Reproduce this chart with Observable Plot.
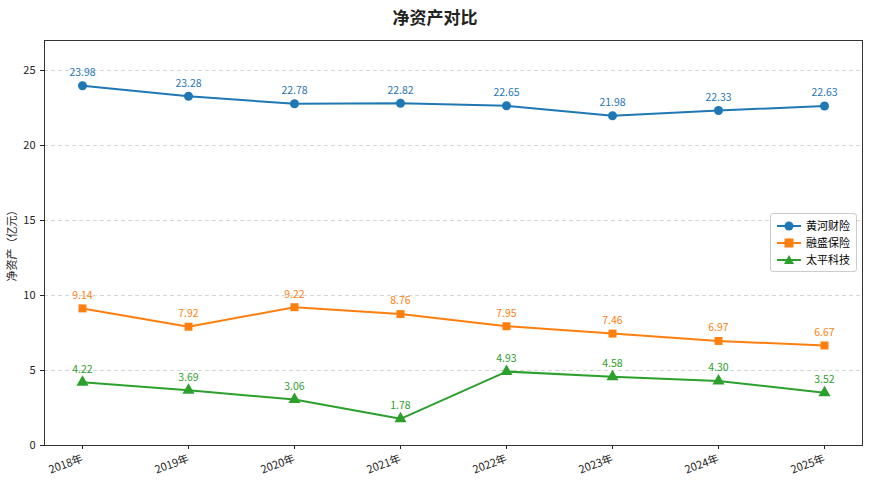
<!DOCTYPE html>
<html><head><meta charset="utf-8">
<script src="https://cdn.jsdelivr.net/npm/d3@7"></script>
<script src="https://cdn.jsdelivr.net/npm/@observablehq/plot@0.6"></script>
<style>
body{margin:0;background:#fff;font-family:"Noto Sans CJK SC","Noto Sans",sans-serif;}
#wrap{position:relative;width:870px;height:485px;}
#title{position:absolute;top:4px;left:0;width:870px;text-align:center;font-size:17px;font-weight:bold;color:#222;}
#chart{position:absolute;top:30px;left:0;}
#legend{position:absolute;left:770px;top:213px;border:1px solid #ccc;border-radius:3px;background:#fff;padding:3px 6px;font-size:11px;line-height:17px;}
#legend div{display:flex;align-items:center;gap:5px;}
</style></head><body>
<div id="wrap"><div id="title">净资产对比</div><div id="chart"></div><div id="legend"></div></div>
<script>
const years=["2018年","2019年","2020年","2021年","2022年","2023年","2024年","2025年"];
const seriesNames=["黄河财险","融盛保险","太平科技"];
const huanghe=[23.98,23.28,22.78,22.82,22.65,21.98,22.33,22.63];
const rongsheng=[9.14,7.92,9.22,8.76,7.95,7.46,6.97,6.67];
const taiping=[4.22,3.69,3.06,1.78,4.93,4.58,4.30,3.52];
const colors=["#1f77b4","#ff7f0e","#2ca02c"];
const symbols=["circle","square","triangle"];
const vals=[huanghe,rongsheng,taiping];
const data=[];
vals.forEach((v,i)=>v.forEach((y,j)=>data.push({s:seriesNames[i],x:years[j],y,c:colors[i],sym:symbols[i]})));
const chart=Plot.plot({
 width:870,height:455,marginTop:10,marginBottom:40,marginLeft:44,marginRight:8,
 style:{fontSize:"11px",fontFamily:"Noto Sans CJK SC, sans-serif",color:"#222"},
 x:{type:"point",domain:years,padding:0.34,label:null,tickRotate:-20,tickSize:4},
 y:{domain:[0,27],ticks:[0,5,10,15,20,25],label:"净资产（亿元）",labelAnchor:"center",labelArrow:"none",labelOffset:36,tickSize:4},
 symbol:{type:"identity"},
 marks:[
  Plot.gridY([5,10,15,20,25],{stroke:"#bbb",strokeDasharray:"4,3",strokeOpacity:0.6}),
  Plot.frame({stroke:"#333"}),
  Plot.line(data,{x:"x",y:"y",z:"s",stroke:"c",strokeWidth:2}),
  Plot.dot(data,{x:"x",y:"y",fill:"c",symbol:"sym",r:4.5}),
  Plot.text(data,{x:"x",y:"y",text:d=>d.y.toFixed(2),fill:"c",dy:-13,fontSize:10.5})
 ]
});
chart.querySelectorAll("g[aria-label='x-axis tick label'] text").forEach(t=>t.setAttribute("text-anchor","end"));
document.getElementById("chart").appendChild(chart);
const lg=document.getElementById("legend");
const shapes=['<circle cx="12" cy="6" r="4.5"/>','<rect x="7.5" y="1.5" width="9" height="9"/>','<polygon points="12,1 17,10 7,10"/>'];
seriesNames.forEach((n,i)=>{lg.innerHTML+=`<div><svg width="24" height="12" fill="${colors[i]}"><line x1="0" y1="6" x2="24" y2="6" stroke="${colors[i]}" stroke-width="2"/>${shapes[i]}</svg>${n}</div>`;});
</script></body></html>
